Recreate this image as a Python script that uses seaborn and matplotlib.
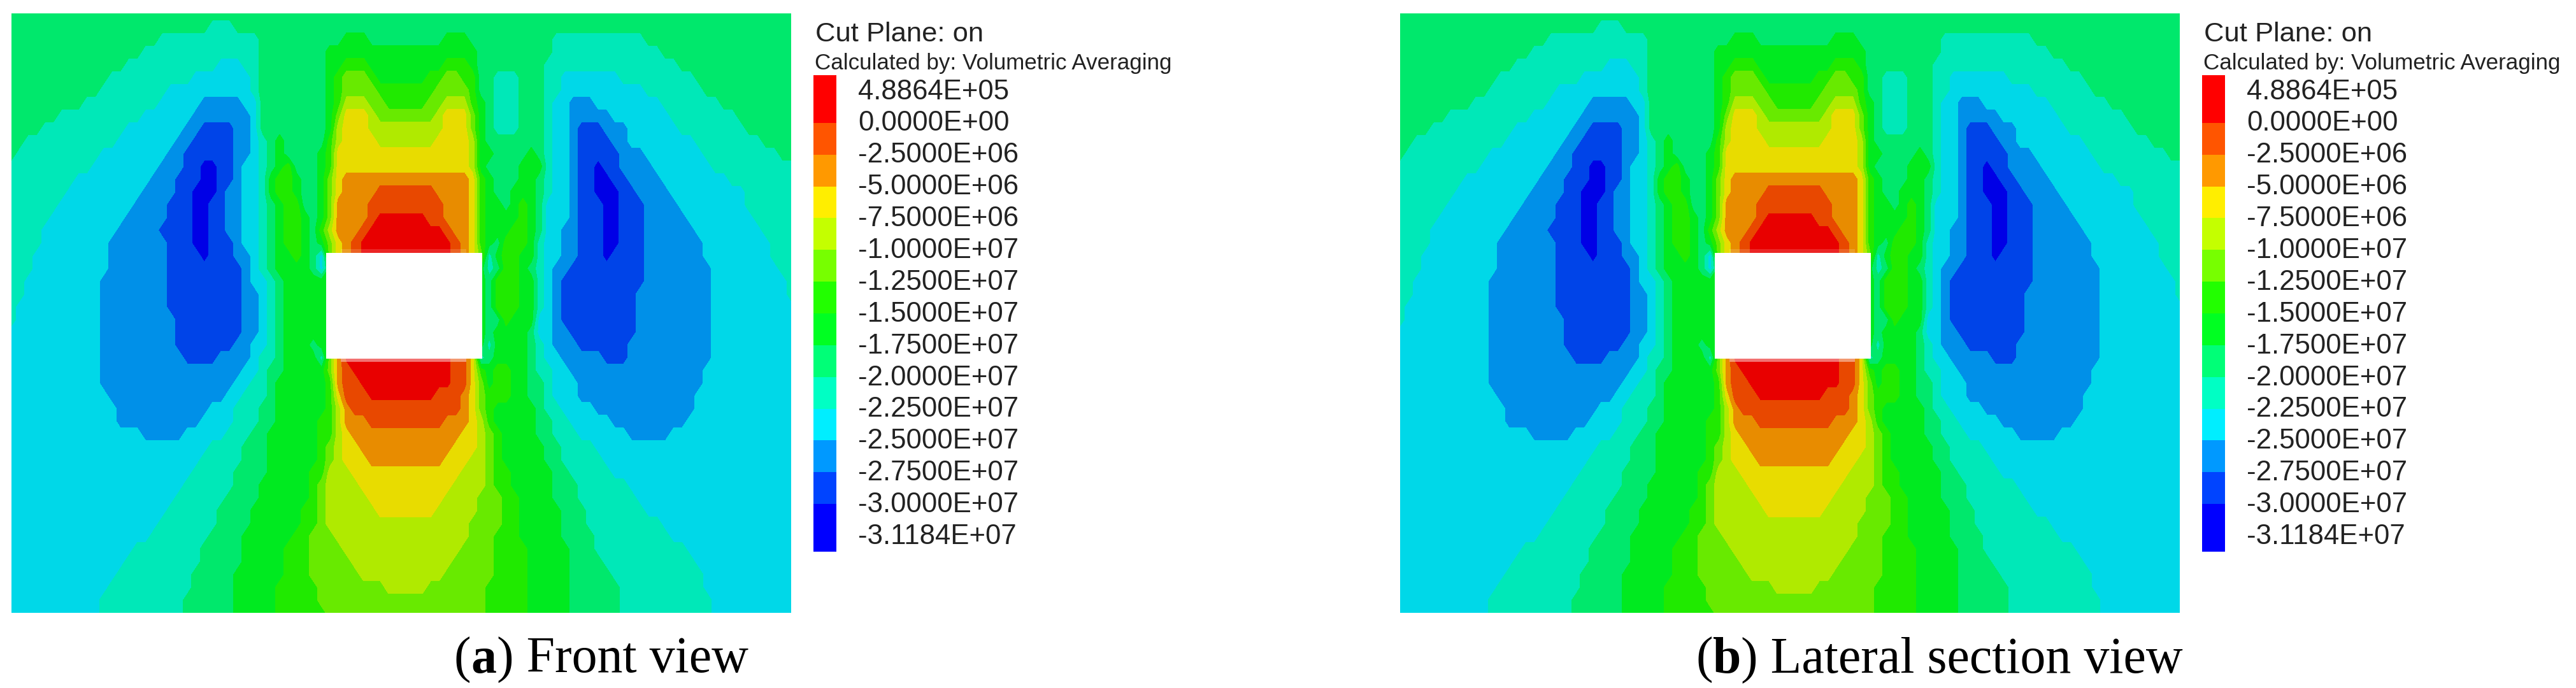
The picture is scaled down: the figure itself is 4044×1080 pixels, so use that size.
import numpy as np
import seaborn as sns
import matplotlib.pyplot as plt
from matplotlib.colors import ListedColormap, BoundaryNorm
from matplotlib.patches import Rectangle

W, H = 4044, 1080

# Stress classes, deepest blue (0) to red (13), in units of 1E+06
levels = [-32, -30, -27.5, -25, -22.5, -20, -17.5, -15, -12.5, -10, -7.5, -5, -2.5, 0, 1]
band_mid = np.array([-31.18, -28.75, -26.25, -23.75, -21.25, -18.75, -16.25, -13.75,
                     -11.25, -8.75, -6.25, -3.75, -1.25, 0.49])
field_colors = ["#0000e6", "#0044e8", "#0090e8", "#00d8e8", "#00e8b8", "#00e86c", "#00ea20",
                "#20ea00", "#68ea00", "#b0ea00", "#e8dc00", "#e88c00", "#e84800", "#e80000"]
legend_colors = ["#0000ff", "#0044ff", "#0099ff", "#00eeff", "#00ffc4", "#00ff77", "#00ff22",
                 "#22ff00", "#77ff00", "#c4ff00", "#ffee00", "#ff9900", "#ff5500", "#ff0000"]
legend_labels = ["4.8864E+05", "0.0000E+00", "-2.5000E+06", "-5.0000E+06", "-7.5000E+06",
                 "-1.0000E+07", "-1.2500E+07", "-1.5000E+07", "-1.7500E+07", "-2.0000E+07",
                 "-2.2500E+07", "-2.5000E+07", "-2.7500E+07", "-3.0000E+07", "-3.1184E+07"]

# Section read row by row: class, end of that class along x, next class, ...
row_y = list(range(34, 1539, 32))
rows = [
    [5],
    [5,395,4,445,5],
    [5,310,4,498,5,650,6,695,5,840,6,890,5,1062,4,1225,5],
    [5,270,4,500,5,628,6,905,5,1047,4,1255,5],
    [5,235,4,420,3,465,4,500,5,622,6,655,7,700,6,850,7,895,6,915,5,1045,4,1290,5],
    [5,205,4,365,3,478,4,500,5,620,6,645,7,660,8,695,7,725,6,815,7,845,8,885,7,905,6,918,5,950,4,985,5,1045,4,1075,3,1190,4,1320,5],
    [5,195,4,320,3,485,4,500,5,620,6,640,7,650,8,715,7,830,8,893,7,905,6,918,5,948,4,990,5,1045,4,1065,3,1225,4,1345,5],
    [5,155,4,295,3,380,2,470,3,490,4,500,5,620,6,638,7,648,8,650,9,700,8,735,7,810,8,840,9,890,8,900,7,908,6,920,5,948,4,990,5,1045,4,1060,3,1090,2,1130,3,1255,4,1370,5],
    [5,110,4,270,3,365,2,472,3,490,4,500,5,618,6,635,7,642,8,648,9,652,10,702,9,715,8,825,9,850,10,892,9,900,8,907,7,915,6,922,5,948,4,990,5,1043,4,1055,3,1085,2,1170,3,1280,4,1400,5],
    [5,80,4,245,3,345,2,385,1,450,2,472,3,490,4,500,5,618,6,632,7,638,8,645,9,650,10,705,9,840,10,895,9,902,8,908,7,915,6,922,5,950,4,985,5,1042,4,1052,3,1088,2,1095,1,1150,2,1195,3,1300,4,1430,5],
    [5,45,4,220,3,330,2,368,1,452,2,475,3,492,4,503,5,525,6,545,5,615,6,630,7,637,8,643,9,648,10,715,9,835,10,897,9,903,8,910,7,917,6,925,5,1042,4,1050,3,1088,2,1095,1,1165,2,1205,3,1320,4,1460,5],
    [5,28,4,195,3,318,2,355,1,452,2,475,3,492,4,505,5,522,6,550,5,612,6,628,7,635,8,641,9,646,10,897,9,903,8,910,7,917,6,935,5,1000,6,1030,5,1040,4,1050,3,1086,2,1097,1,1175,2,1230,3,1345,4,1490,5],
    [4,170,3,300,2,345,1,380,0,412,1,450,2,470,3,492,4,507,5,520,6,535,7,555,6,565,5,612,6,625,7,632,8,638,9,644,10,895,9,903,8,910,7,917,6,927,5,990,6,1035,5,1040,4,1050,3,1085,2,1100,1,1130,0,1150,1,1180,2,1245,3,1365,4],
    [4,148,3,285,2,335,1,375,0,412,1,445,2,468,3,490,4,505,5,518,6,530,7,558,6,575,5,610,6,622,7,628,8,634,9,640,10,660,11,892,10,903,9,910,8,917,7,925,6,938,5,985,6,1003,7,1012,6,1030,5,1038,4,1048,3,1083,2,1100,1,1130,0,1165,1,1195,2,1262,3,1390,4],
    [4,130,3,270,2,328,1,368,0,408,1,438,2,462,3,490,4,505,5,518,6,530,7,560,6,578,5,608,6,620,7,627,8,633,9,639,10,655,11,720,12,830,11,892,10,903,9,910,8,917,7,925,6,945,5,975,6,1000,7,1012,6,1028,5,1037,4,1047,3,1083,2,1102,1,1140,0,1175,1,1215,2,1280,3,1415,4],
    [4,115,3,255,2,318,1,362,0,405,1,437,2,462,3,490,4,505,5,520,6,535,7,570,6,582,5,605,6,618,7,626,8,632,9,638,10,645,11,705,12,845,11,892,10,903,9,910,8,917,7,925,6,952,5,968,6,990,7,1008,6,1025,5,1035,4,1045,3,1082,2,1105,1,1145,0,1180,1,1225,2,1300,3,1430,4],
    [4,100,3,238,2,312,1,362,0,403,1,437,2,460,3,490,4,507,5,522,6,540,7,575,6,590,5,603,6,616,7,625,8,631,9,637,10,643,11,695,12,725,13,815,12,852,11,892,10,903,9,910,8,917,7,925,6,952,5,965,6,985,7,1005,6,1023,5,1035,4,1045,3,1080,2,1105,1,1148,0,1185,1,1235,2,1312,3,1445,4],
    [4,85,3,222,2,310,1,365,0,402,1,437,2,460,3,490,4,508,5,525,6,545,7,575,6,592,5,603,6,614,7,622,8,630,9,637,10,643,11,685,12,710,13,845,12,870,11,892,10,903,9,910,8,917,7,925,6,952,5,963,6,980,7,1003,6,1022,5,1033,4,1043,3,1078,2,1105,1,1148,0,1183,1,1238,2,1325,3,1455,4],
    [4,75,3,205,2,312,1,372,0,397,1,440,2,465,3,495,4,510,5,528,6,550,7,575,6,595,5,608,6,622,7,628,8,635,9,642,10,650,11,670,12,690,13,860,12,885,11,892,10,905,9,912,8,918,7,925,6,935,5,965,7,1000,6,1020,5,1030,4,1040,3,1072,2,1095,1,1150,0,1178,1,1238,2,1337,3,1465,4],
    [4,62,3,205,2,315,1,378,0,392,1,450,2,480,3,497,4,512,5,530,6,555,7,570,6,598,5,605,4,612,3,622,7,628,8,635,9,642,10,650,11,670,12,690,13,860,12,885,11,892,10,905,9,912,8,920,3,930,4,940,5,948,6,965,7,995,6,1015,5,1028,4,1038,3,1072,2,1095,1,1150,0,1172,1,1238,2,1345,3,1475,4],
    [4,55,3,200,2,318,1,455,2,482,3,500,4,515,5,532,6,598,5,604,4,610,3,616,6,925,3,932,4,940,5,952,7,990,6,1012,5,1025,4,1035,3,1060,2,1085,1,1230,2,1352,3,1485,4],
    [4,48,3,197,2,320,1,460,2,485,3,505,4,520,5,535,6,925,5,950,7,985,6,1015,5,1025,4,1033,3,1050,2,1078,1,1225,2,1356,3,1495,4],
    [4,42,3,193,2,323,1,468,2,492,3,510,4,525,5,537,6,925,5,950,7,985,6,1018,5,1025,4,1033,3,1048,2,1072,1,1220,2,1358,3,1505,4],
    [4,35,3,190,2,326,1,470,2,495,3,515,4,527,5,540,6,925,5,948,7,990,6,1018,5,1025,4,1032,3,1047,2,1075,1,1218,2,1360,3,1512,4],
    [4,28,3,185,2,328,1,468,2,492,3,518,4,528,5,540,6,925,5,952,7,975,6,1015,5,1022,4,1030,3,1050,2,1078,1,1215,2,1362,3],
    [3,183,2,332,1,455,2,488,3,515,4,528,5,540,6,925,5,940,6,1010,5,1022,4,1030,3,1055,2,1092,1,1208,2,1362,3],
    [3,183,2,337,1,440,2,482,3,508,4,525,5,540,6,590,5,605,4,612,6,925,4,945,5,950,6,1012,5,1020,4,1032,3,1060,2,1105,1,1200,2,1360,3],
    [3,187,2,345,1,415,2,472,3,500,4,520,5,540,6,600,5,610,4,622,7,630,8,636,9,640,10,645,11,650,12,660,13,868,12,888,11,895,10,905,9,910,8,918,4,930,5,945,6,1010,5,1020,4,1037,3,1072,2,1145,1,1195,2,1352,3],
    [3,192,2,460,3,490,4,515,5,535,6,620,7,630,8,636,9,640,10,645,11,650,12,678,13,868,12,888,11,895,10,905,9,910,8,918,7,925,6,950,7,975,6,1005,5,1030,4,1050,3,1085,2,1345,3],
    [3,196,2,445,3,478,4,510,5,532,6,625,7,632,8,638,9,641,10,646,11,653,12,688,13,855,12,888,11,897,10,907,9,913,8,920,7,932,6,950,7,972,6,1005,5,1035,4,1055,3,1095,2,1340,3],
    [3,205,2,425,3,465,4,505,5,530,6,622,7,634,8,640,9,644,10,650,11,660,12,708,13,835,12,885,11,898,10,908,9,915,8,925,7,935,6,950,7,970,6,1010,5,1040,4,1060,3,1105,2,1332,3],
    [3,215,2,405,3,450,4,495,5,525,6,618,7,636,8,642,9,647,10,654,11,670,12,880,11,900,10,910,9,917,8,928,7,945,6,1015,5,1045,4,1075,3,1135,2,1325,3],
    [3,228,2,385,3,440,4,490,5,522,6,612,7,635,8,643,9,648,10,660,11,695,12,850,11,900,10,912,9,920,8,930,7,950,6,1020,5,1050,4,1085,3,1165,2,1310,3],
    [3,270,2,345,3,425,4,480,5,518,6,608,7,632,8,640,9,650,10,666,11,885,10,912,9,920,8,935,7,955,6,1025,5,1055,4,1100,3,1195,2,1285,3],
    [3,405,4,470,5,515,6,603,7,628,8,638,9,648,10,680,11,855,10,912,9,922,8,940,7,960,6,1035,5,1065,4,1135,3],
    [3,385,4,460,5,510,6,600,7,622,8,635,9,652,10,695,11,840,10,888,9,925,8,945,7,965,6,1045,5,1075,4,1150,3],
    [3,365,4,450,5,505,6,595,7,618,8,630,9,665,10,875,9,925,8,948,7,968,6,1050,5,1085,4,1170,3],
    [3,350,4,440,5,498,6,590,7,612,8,628,9,680,10,860,9,925,8,950,7,975,6,1055,5,1095,4,1195,3],
    [3,335,4,430,5,490,6,585,7,608,8,622,9,695,10,842,9,915,8,952,7,985,6,1062,5,1105,4,1215,3],
    [3,320,4,422,5,482,6,580,7,605,8,620,9,720,10,825,9,905,8,952,7,990,6,1068,5,1115,4,1235,3],
    [3,305,4,410,5,475,6,570,7,600,8,625,9,895,8,953,7,995,6,1073,5,1122,4,1260,3],
    [3,285,4,400,5,465,6,560,7,595,8,635,9,890,8,950,7,998,6,1077,5,1130,4,1285,3],
    [3,260,4,390,5,460,6,550,7,592,8,648,9,880,8,948,7,1002,6,1080,5,1140,4,1305,3],
    [3,240,4,380,5,455,6,542,7,590,8,670,9,865,8,945,7,1004,6,1083,5,1150,4,1320,3],
    [3,225,4,372,5,452,6,536,7,592,8,692,9,850,8,940,7,1006,6,1086,5,1165,4,1335,3],
    [3,210,4,365,5,450,6,533,7,600,8,735,9,815,8,932,7,1008,6,1088,5,1175,4,1345,3],
    [3,195,4,355,5,450,6,531,7,610,8,925,7,1010,6,1090,5,1185,4,1355,3],
    [3,185,4,350,5,450,6,530,7,620,8,920,7,1010,6,1090,5,1190,4,1360,3],
]

x_nodes = np.arange(22, 1522, 16)


def expand(run):
    run = np.array(run)
    return band_mid[run[0::2][np.searchsorted(run[1::2], x_nodes, side="right")]]


stress = np.array([expand(r) for r in rows])

sns.set_theme(style="white")
plt.rcParams["font.family"] = ["Liberation Sans", "DejaVu Sans"]
fig = plt.figure(figsize=(W / 100, H / 100), dpi=100)
fig.patch.set_facecolor("white")


def box(x0, y0, x1, y1):
    return [x0 / W, 1 - y1 / H, (x1 - x0) / W, (y1 - y0) / H]


def caption(parts, x, y):
    for txt, weight in parts:
        t = fig.text(x / W, 1 - y / H, txt, fontsize=57.5, family="Liberation Serif",
                     weight=weight, color="black", ha="left", va="baseline")
        fig.canvas.draw()
        x = t.get_window_extent().x1


captions = [[("(", "normal"), ("a", "bold"), (") Front view", "normal")],
            [("(", "normal"), ("b", "bold"), (") Lateral section view", "normal")]]
caption_x = [713, 2662]
panel_dx = [0, 2180]
legend_bands = np.repeat(band_mid[::-1], [3] + [2] * 12 + [3]).reshape(-1, 1)

for cap, cx, dx in zip(captions, caption_x, panel_dx):
    ax = fig.add_axes(box(18 + dx, 21, 1251 + dx, 962))
    ax.contourf(x_nodes, row_y, stress, levels=levels, colors=field_colors)
    ax.set_xlim(22, 1521)
    ax.set_ylim(1538, 34)
    ax.add_patch(Rectangle((622, 635), 298, 265, color="white", lw=0, zorder=5))
    ax.add_patch(Rectangle((650, 900), 240, 9, color="white", alpha=0.45, lw=0, zorder=4))
    ax.add_patch(Rectangle((650, 626), 240, 9, color="white", alpha=0.15, lw=0, zorder=4))
    ax.axis("off")

    lax = fig.add_axes(box(1277 + dx, 118, 1313 + dx, 866))
    sns.heatmap(legend_bands, ax=lax, cmap=ListedColormap(legend_colors),
                norm=BoundaryNorm(levels, 14), cbar=False, xticklabels=False, yticklabels=False)

    fig.text((1280 + dx) / W, 1 - 54 / H, "Cut Plane: on", fontsize=31.3, color="#222222", va="center")
    fig.text((1279 + dx) / W, 1 - 100 / H, "Calculated by: Volumetric Averaging", fontsize=25.2,
             color="#222222", va="center")
    for i, lab in enumerate(legend_labels):
        fig.text((1347 + dx) / W, 1 - (144 + i * 49.9) / H, lab, fontsize=31.5, color="#222222", va="center")
    caption(cap, cx, 1056)

fig.savefig("out.png", dpi=100)
